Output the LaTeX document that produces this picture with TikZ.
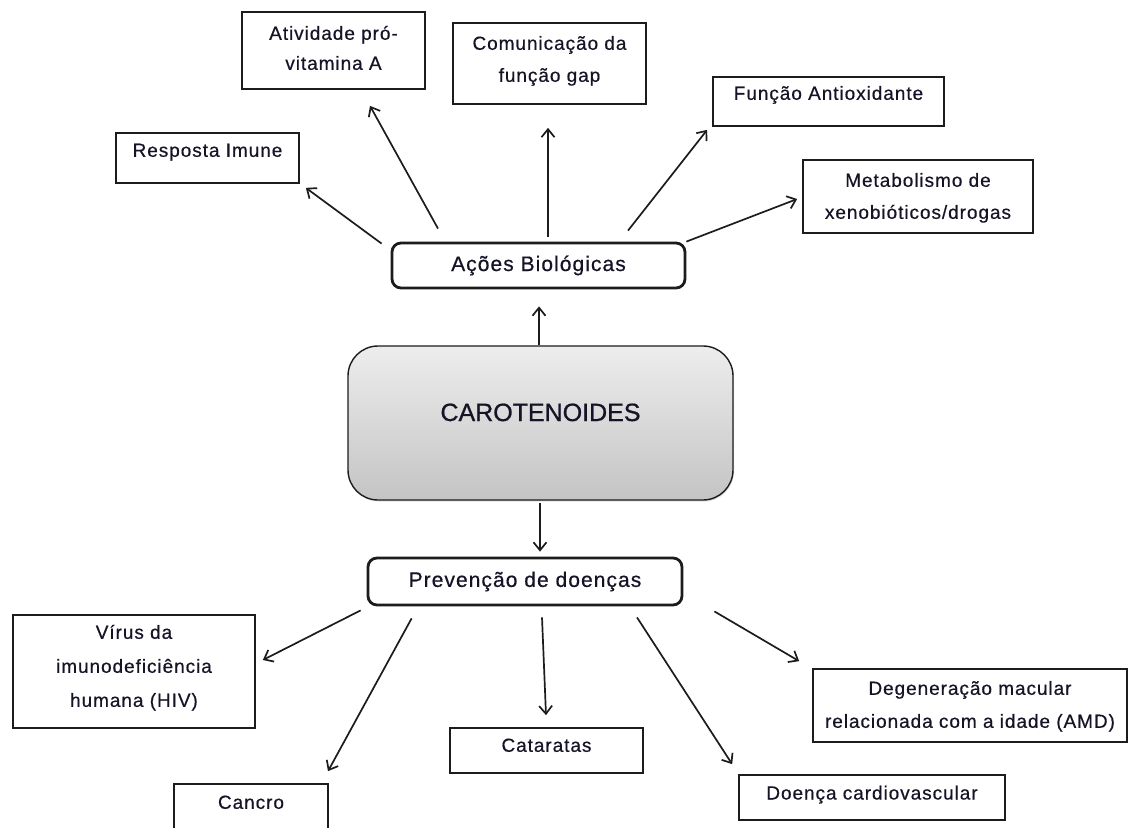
\documentclass[tikz,border=0pt]{standalone}
\usepackage{fontspec}
\setmainfont{Liberation Sans}[LetterSpace=5,FakeBold=0.5]
\newfontfamily\carfont{Liberation Sans}[FakeBold=0.8]
\usetikzlibrary{arrows.meta,shadows}
\definecolor{ln}{HTML}{1C1C1C}
\definecolor{tx}{HTML}{141426}
\definecolor{gtop}{HTML}{EDEDED}
\definecolor{gbot}{HTML}{C4C4C4}
% width, height, first baseline from top, baselineskip, text
\newcommand\bt[5]{\parbox[c][#2pt][t]{#1pt}{\fontsize{19}{#4}\selectfont\centering\vspace*{\dimexpr#3pt-#4pt\relax}\hbox{}#5}}
\begin{document}
\begin{tikzpicture}[x=1pt,y=-1pt,
  box/.style={draw=ln, line width=1.7pt, inner sep=0pt, text=tx},
  rbox/.style={draw=ln, line width=2.8pt, rounded corners=9pt, inner sep=0pt, fill=white, text=tx, font=\fontsize{21}{25}\selectfont},
  arr/.style={draw=ln, line width=1.7pt, -{Straight Barb[length=8pt,width=13pt]}}]
\useasboundingbox[fill=white] (0,0) rectangle (1131,827);

% top boxes
\node[box] (at)  at (333.5,50.5)  {\bt{183}{77}{27.8}{30}{Atividade pró-\\vitamina A}};
\node[box] (cg)  at (549.5,63.5)  {\bt{193}{81}{26.8}{32}{Comunicação da\\função gap}};
\node[box] (fa)  at (828.5,101.5) {\bt{231}{49}{22.8}{32}{Função Antioxidante}};
\node[box] (ri)  at (207.5,158)   {\bt{183}{50}{23.8}{32}{Resposta Imune}};
\node[box] (mx)  at (918,196.5)   {\bt{230}{73}{26.8}{32}{Metabolismo de\\xenobióticos/drogas}};

% middle
\node[rbox, minimum width=293pt, minimum height=45pt] (ab) at (538.5,265.5) {Ações Biológicas};
\node[draw=ln, line width=1.4pt, rounded corners=30pt, top color=gtop, bottom color=gbot, inner sep=0pt, text=tx,
      drop shadow={opacity=0.25, shadow xshift=1pt, shadow yshift=-1.5pt}]
      (car) at (540.5,423) {\parbox[c][154pt][t]{385pt}{\carfont\fontsize{25}{30}\selectfont\centering\vspace*{\dimexpr75pt-30pt\relax}\hbox{}CAROTENOIDES}};
\node[rbox, minimum width=314pt, minimum height=47pt] (pd) at (525,581.5) {Prevenção de doenças};

% bottom boxes
\node[box] (hiv) at (134,671.5)   {\bt{242}{113}{23.8}{34}{Vírus da\\imunodeficiência\\humana (HIV)}};
\node[box] (dm)  at (970,705.5)   {\bt{314}{73}{25.8}{33}{Degeneração macular\\relacionada com a idade (AMD)}};
\node[box] (cat) at (546.5,750.5) {\bt{193}{45}{23.8}{32}{Cataratas}};
\node[box] (dc)  at (872,797.5)   {\bt{266}{45}{24.5}{32}{Doença cardiovascular}};
\node[box] (cn)  at (251,812)     {\bt{154}{56}{24.8}{32}{Cancro}};

% connectors: top
\draw[arr] ([shift={(-9,2)}]ab.north west) -- ([shift={(6,4)}]ri.south east);
\draw[arr] ([shift={(-100.5,-13)}]ab.north) -- ([shift={(36.5,16)}]at.south);
\draw[arr] ([shift={(9.5,-5)}]ab.north) -- ([shift={(-1.5,23)}]cg.south);
\draw[arr] ([shift={(89.5,-11)}]ab.north) -- ([shift={(-5,3)}]fa.south west);
\draw[arr] ([shift={(0,0)}]ab.north east) -- ([shift={(-5,2.5)}]mx.west);

% connectors: centre
\draw[arr] ([shift={(-1.5,0)}]car.north) -- ([shift={(0.5,17)}]ab.south);
\draw[arr] ([shift={(-0.5,2)}]car.south) -- ([shift={(15,-5)}]pd.north);

% connectors: bottom
\draw[arr] ([shift={(-6,4)}]pd.south west) -- ([shift={(7,-11.5)}]hiv.east);
\draw[arr] ([shift={(45,12)}]pd.south west) -- ([shift={(77,-12)}]cn.north);
\draw[arr] ([shift={(17,11)}]pd.south) -- ([shift={(-0.5,-12)}]cat.north);
\draw[arr] ([shift={(112,11)}]pd.south) -- ([shift={(-6,-10)}]dc.north west);
\draw[arr] ([shift={(31,5)}]pd.south east) -- ([shift={(-13,-7)}]dm.north west);
\end{tikzpicture}
\end{document}
